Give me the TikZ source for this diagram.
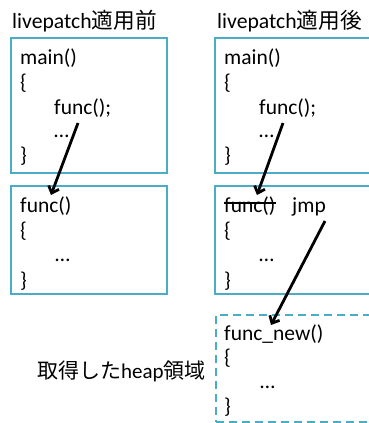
\documentclass[tikz,border=0pt]{standalone}
\usepackage{fontspec}
\setmainfont{Carlito}
\newfontfamily\cjk{Noto Sans CJK JP}
\usetikzlibrary{arrows.meta}
\definecolor{boxblue}{RGB}{75,172,198}
\tikzset{
  box/.style={draw=boxblue, line width=2pt, anchor=north west, inner sep=0pt},
  dbox/.style={box, dash pattern=on 8pt off 5pt},
  code/.style={anchor=base west, inner sep=0pt, font=\fontsize{21.5}{25}\selectfont},
  ttl/.style={anchor=base west, inner sep=0pt, font=\fontsize{21.7}{25}\selectfont},
  arr/.style={line width=2.8pt, -{Straight Barb[length=6pt,width=11pt,line width=2.8pt]}},
}
\begin{document}
\begin{tikzpicture}[x=1pt,y=-1pt]
\useasboundingbox (0,0) rectangle (369,423);
\clip (0,0) rectangle (369,423);
\fill[white] (0,0) rectangle (369,423);
% titles
\node[ttl] (t1) at (12,28) {livepatch{\cjk 適用前}};
\node[ttl] (t2) at (217,28) {livepatch{\cjk 適用後}};
% boxes
\node[box, minimum width=156pt, minimum height=135pt] (b1) at (10,37) {};
\node[box, minimum width=156pt, minimum height=108pt] (b2) at (10,185) {};
\node[box, minimum width=180pt, minimum height=135pt] (b3) at (214,37) {};
\node[box, minimum width=180pt, minimum height=108pt] (b4) at (214,185) {};
\node[dbox, minimum width=180pt, minimum height=107pt] (b5) at (215,314) {};
% left main
\node[code] (l1) at (20,64) {main()};
\node[code] (l2) at (20,89) {\{};
\node[code] (l3) at (54,114) {func();};
\node[code] (l4) at (54,137) {…};
\node[code] (l5) at (20,162) {\}};
% left func
\node[code] (f1) at (20,212) {func()};
\node[code] (f2) at (20,237) {\{};
\node[code] (f3) at (55,261) {…};
\node[code] (f4) at (20,287) {\}};
% right main
\node[code] (r1) at (224,64) {main()};
\node[code] (r2) at (224,89) {\{};
\node[code] (r3) at (259,114) {func();};
\node[code] (r4) at (259,137) {…};
\node[code] (r5) at (224,162) {\}};
% right func (patched)
\node[code] (g1) at (224,212) {func()};
\node[code] (g1j) at (292,212) {jmp};
\draw[line width=1.3pt] (g1.west |- 0,203) -- (g1.east |- 0,203);
\node[code] (g2) at (224,237) {\{};
\node[code] (g3) at (259,261) {…};
\node[code] (g4) at (224,287) {\}};
% func_new
\node[code] (n1) at (224,340) {func\_new()};
\node[code] (n2) at (224,364) {\{};
\node[code] (n3) at (260,388) {…};
\node[code] (n4) at (224,413) {\}};
% heap label
\node[ttl, font=\fontsize{21}{25}\selectfont] (h) at (37,378) {{\cjk 取得した}heap{\cjk 領域}};
% arrows
\coordinate (a1s) at (78,123);
\coordinate (a1e) at (51,195);
\coordinate (a2s) at (283,123);
\coordinate (a2e) at (257,195);
\coordinate (a3s) at (325,221);
\coordinate (a3e) at (271,325);
\draw[arr] (a1s) -- (a1e);
\draw[arr] (a2s) -- (a2e);
\draw[arr] (a3s) -- (a3e);
\end{tikzpicture}
\end{document}
